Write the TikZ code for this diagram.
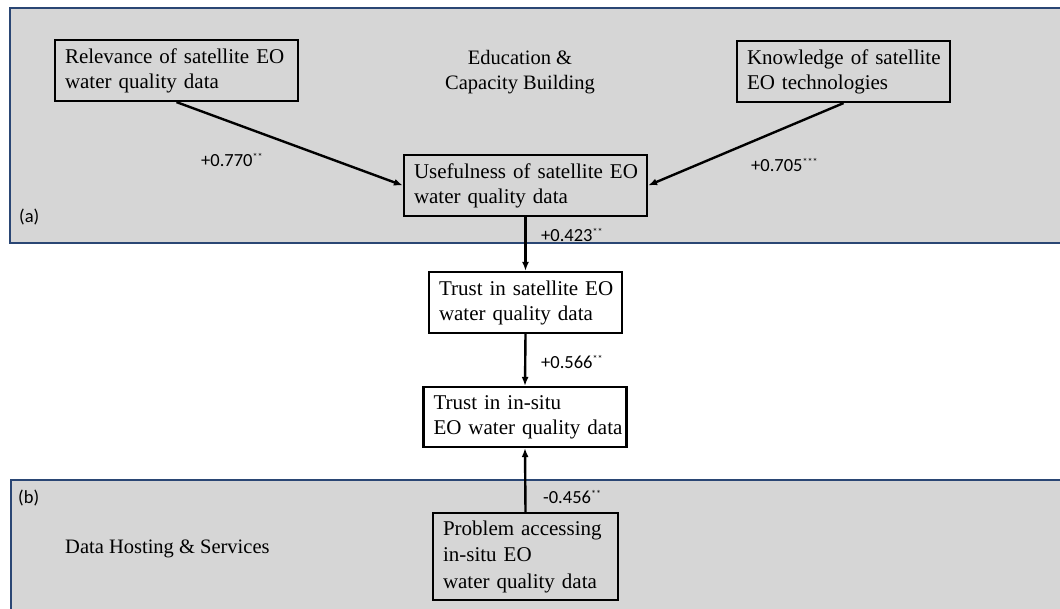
\documentclass[tikz,border=0pt]{standalone}
\usepackage{fontspec}
\setmainfont{Liberation Serif}
\newfontfamily\labfont{Carlito}
\usetikzlibrary{arrows.meta}
\definecolor{panelgray}{HTML}{D6D6D6}
\definecolor{panelblue}{HTML}{2A4674}
\newcommand{\stars}[1]{\raisebox{6pt}{\fontsize{10}{10}\selectfont #1}}
\newcommand{\boxline}[1]{\mbox{#1}}
\tikzset{
  panel/.style={fill=panelgray, draw=panelblue, line width=1.6pt},
  box/.style={draw=black, line width=2.2pt, inner xsep=10pt, inner ysep=0pt, align=left,
              font=\fontsize{21}{25}\selectfont},
  gbox/.style={box, fill=panelgray},
  wbox/.style={box, fill=white},
  coef/.style={anchor=west, inner sep=0pt, font=\labfont\fontsize{18.5}{20}\selectfont},
  tag/.style={anchor=west, inner sep=0pt, font=\labfont\fontsize{18.5}{20}\selectfont},
  title/.style={inner sep=0pt, align=center, font=\fontsize{20.5}{25}\selectfont},
  conn/.style={line width=2.4pt, -{Latex[length=9pt,width=7pt]}}
}
\begin{document}
\begin{tikzpicture}[x=1pt,y=-1pt]
\useasboundingbox (0,0) rectangle (1060,608);
\fill[white] (0,0) rectangle (1060,608);
\begin{scope}
  \clip (0,0) rectangle (1060,608);
  \draw[panel] (10,8) rectangle (1070,243);
  \draw[panel] (11,480) rectangle (1070,620);
\end{scope}

% panel labels
\node[tag] (ta) at (19,217) {(a)};
\node[tag] (tb) at (18,498) {(b)};
\node[title] (edu) at (520,72) {Education \&\\Capacity Building};
\node[title, anchor=west] (dhs) at (65,549) {Data Hosting \& Services};

% boxes
\node[gbox, minimum width=243pt, minimum height=61pt, text width=223pt] (rel) at (176.5,70.5)
  {\boxline{Relevance of satellite EO}\\\boxline{water quality data}};
\node[gbox, minimum width=213pt, minimum height=61pt, text width=193pt] (know) at (843.5,71.5)
  {\boxline{Knowledge of satellite}\\\boxline{EO technologies}};
\node[gbox, minimum width=243pt, minimum height=61pt, text width=223pt] (use) at (525.5,185.5)
  {\boxline{Usefulness of satellite EO}\\\boxline{water quality data}};
\node[wbox, minimum width=193pt, minimum height=61pt, text width=173pt] (tsat) at (525.5,302.5)
  {\boxline{Trust in satellite EO}\\\boxline{water quality data}};
\node[wbox, minimum width=203pt, minimum height=60pt, text width=183pt] (tins) at (525,417)
  {\boxline{Trust in in-situ}\\\boxline{EO water quality data}};
\node[gbox, minimum width=185pt, minimum height=87pt, text width=165pt,
      font=\fontsize{21}{26.5}\selectfont] (prob) at (525.5,556.5)
  {\boxline{Problem accessing}\\\boxline{in-situ EO}\\\boxline{water quality data}};

% connectors
\draw[conn] (rel.south) -- (use.west);
\draw[conn] (know.south) -- (use.east);
\draw[conn] (use.south) -- (tsat.north);
\draw[conn] (tsat.south) -- (tins.north);
\draw[conn] (prob.north) -- (tins.south);

% coefficients
\node[coef] (c1) at (201,160) {+0.770\stars{**}};
\node[coef] (c2) at (751,165) {+0.705\stars{***}};
\node[coef] (c3) at (541,235) {+0.423\stars{**}};
\node[coef] (c4) at (541,362) {+0.566\stars{**}};
\node[coef] (c5) at (543,497) {-0.456\stars{**}};
\end{tikzpicture}
\end{document}
